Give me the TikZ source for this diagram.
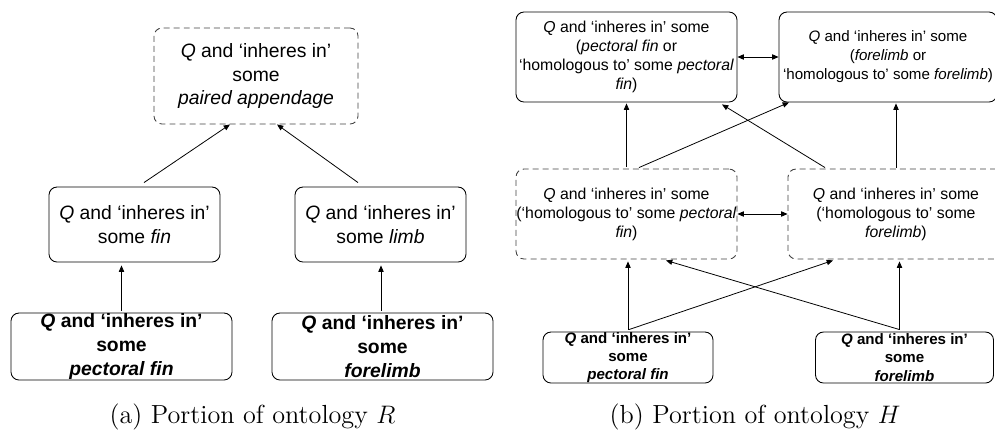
\documentclass[tikz,border=0pt]{standalone}
\usepackage{fontspec}
\newfontfamily\boxfont{Liberation Sans}
\usepackage{tikz}
\usetikzlibrary{
  arrows.meta,
  calc,
  positioning
}

\begin{document}
\begin{tikzpicture}[x=0.2mm,y=-0.2mm,
  box/.style={draw,rounded corners=1.6mm,inner sep=0pt,align=center,line width=0.5pt},
  dbox/.style={box,draw=black!75,dash pattern=on 3.4pt off 2.3pt},
  bigtxt/.style={font=\boxfont\fontsize{11}{13.6}\selectfont},
  boldtxt/.style={font=\boxfont\bfseries\fontsize{11}{13.6}\selectfont},
  smltxt/.style={font=\boxfont\fontsize{9}{10.8}\selectfont},
  smlbold/.style={font=\boxfont\bfseries\fontsize{8.6}{10.3}\selectfont},
  arr/.style={-{Triangle[length=3.6pt,width=3pt]},line width=0.45pt},
  darr/.style={{Triangle[length=3.6pt,width=3pt]}-{Triangle[length=3.6pt,width=3pt]},line width=0.45pt},
  captxt/.style={font=\fontsize{14.9}{17}\selectfont}]
\clip (0,0) rectangle (995,432);
% (a) ontology R
\node[dbox,bigtxt,minimum width=40.8mm,minimum height=19.2mm] (pa) at (256,76)
  {\textit{Q} and ‘inheres in’\\some\\\textit{paired appendage}};
\node[box,bigtxt,minimum width=34.2mm,minimum height=15mm] (fin) at (134.5,224.5)
  {\textit{Q} and ‘inheres in’\\some \textit{fin}};
\node[box,bigtxt,minimum width=34.2mm,minimum height=15mm] (limb) at (380.5,224.5)
  {\textit{Q} and ‘inheres in’\\some \textit{limb}};
\node[box,boldtxt,minimum width=44.2mm,minimum height=13.4mm] (pfin) at (121.5,346.5)
  {\textit{Q} and ‘inheres in’\\some\\\textit{pectoral fin}};
\node[box,boldtxt,minimum width=44.2mm,minimum height=13.4mm] (flimb) at (382.5,346.5)
  {\textit{Q} and ‘inheres in’\\some\\\textit{forelimb}};
\draw[arr] ([xshift=1.9mm,yshift=0.8mm]fin.north) -- ([xshift=-5.2mm]pa.south);
\draw[arr] ([xshift=-4.5mm,yshift=0.8mm]limb.north) -- ([xshift=4.2mm]pa.south);
\draw[arr] ([yshift=0.4mm]pfin.north) -- ([yshift=-0.6mm]pfin.north |- fin.south);
\draw[arr] ([xshift=-0.3mm,yshift=0.4mm]flimb.north) -- ([xshift=-0.3mm,yshift=-0.6mm]flimb.north |- limb.south);
\node[captxt] (capa) at (252.5,417) {(a) Portion of ontology $R$};
% (b) ontology H
\node[box,smltxt,minimum width=44.2mm,minimum height=18mm] (t1) at (626.5,57)
  {\textit{Q} and ‘inheres in’ some\\(\textit{pectoral fin} or\\‘homologous to’ some \textit{pectoral}\\\textit{fin})};
\node[box,smltxt,font=\boxfont\fontsize{8.6}{10.8}\selectfont,minimum width=43.6mm,minimum height=18mm] (t2) at (888,57)
  {\textit{Q} and ‘inheres in’ some\\(\textit{forelimb} or\\‘homologous to’ some \textit{forelimb})};
\node[dbox,smltxt,minimum width=44.2mm,minimum height=18mm] (m1) at (626.5,214)
  {\textit{Q} and ‘inheres in’ some\\(‘homologous to’ some \textit{pectoral}\\\textit{fin})};
\node[dbox,smltxt,minimum width=43.2mm,minimum height=18mm] (m2) at (896,214)
  {\textit{Q} and ‘inheres in’ some\\(‘homologous to’ some\\\textit{forelimb})};
\node[box,smlbold,minimum width=34mm,minimum height=10.2mm] (b1) at (628,357.5)
  {\textit{Q} and ‘inheres in’\\some\\\textit{pectoral fin}};
\node[box,smlbold,minimum width=35.6mm,minimum height=10.2mm] (b2) at (904.5,357.5)
  {\textit{Q} and ‘inheres in’\\some\\\textit{forelimb}};
% equivalences
\draw[darr] (t1.east) -- (t2.west);
\draw[darr] (m1.east) -- (m2.west);
% subsumptions
\draw[arr] ([yshift=0.4mm]m1.north) -- ([yshift=-0.2mm]t1.south);
\draw[arr] ([xshift=2.5mm,yshift=0.2mm]m1.north) -- ([xshift=-19.8mm]t2.south);
\draw[arr] ([xshift=-14.2mm,yshift=0.2mm]m2.north) -- ([xshift=19.1mm,yshift=-0.4mm]t1.south);
\draw[arr] ([yshift=0.2mm]m2.north) -- ([yshift=-0.2mm]m2.north |- t2.south);
\draw[arr] ([yshift=0.4mm]b1.north) -- ([yshift=-0.4mm]b1.north |- m1.south);
\draw[arr] ([xshift=0.2mm,yshift=0.4mm]b1.north) -- ([xshift=-12.6mm,yshift=-0.2mm]m2.south);
\draw[arr] ([xshift=-1mm,yshift=0.4mm]b2.north) -- ([xshift=7.9mm,yshift=-0.2mm]m1.south);
\draw[arr] ([xshift=-1mm,yshift=0.4mm]b2.north) -- ([xshift=-1mm,yshift=-0.4mm]b2.north |- m2.south);
\node[captxt] (capb) at (755,417) {(b) Portion of ontology $H$};
\end{tikzpicture}
\end{document}
